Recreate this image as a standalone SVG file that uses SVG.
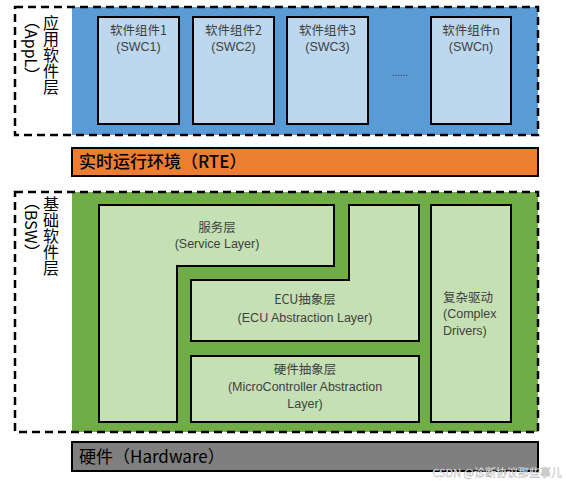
<svg xmlns="http://www.w3.org/2000/svg" width="566" height="482" viewBox="0 0 566 482">
<style>
text{font-family:"Noto Sans CJK SC","Liberation Sans",sans-serif}
.dash{fill:none;stroke:#000;stroke-width:2.5;stroke-dasharray:8 5}
.swc{fill:#BDD7EE;stroke:#000;stroke-width:2}
.bsw{fill:#C5E0B4;stroke:#000;stroke-width:2}
.lbl{font-size:12.5px;fill:#404040;text-anchor:middle}
.en{font-family:"Liberation Sans",Arial,sans-serif;font-size:12.5px;fill:#404040;text-anchor:middle}
.st{text-anchor:start}
.side{font-size:16px;fill:#000;writing-mode:vertical-rl}
.bar{font-size:17px;fill:#000}
</style>
<g id="appl">
<rect x="72" y="7" width="466" height="128" fill="#5B9BD5"/>
<rect class="dash" x="15" y="7" width="523" height="128"/>
<text class="side" x="51" y="15">应用软件层</text>
<text class="side" x="32" y="13">（AppL）</text>
</g>
<g id="swc1"><rect class="swc" x="98" y="17" width="81" height="107"/><text class="lbl" x="138.5" y="35">软件组件1</text><text class="en" x="138.5" y="51">(SWC1)</text></g>
<g id="swc2"><rect class="swc" x="193" y="17" width="81" height="107"/><text class="lbl" x="233.5" y="35">软件组件2</text><text class="en" x="233.5" y="51">(SWC2)</text></g>
<g id="swc3"><rect class="swc" x="287" y="17" width="81" height="107"/><text class="lbl" x="327.5" y="35">软件组件3</text><text class="en" x="327.5" y="51">(SWC3)</text></g>
<g id="dots"><text class="en" x="400" y="76" style="font-size:10px;fill:#333">......</text></g>
<g id="swcn"><rect class="swc" x="431" y="17" width="80" height="107"/><text class="lbl" x="471" y="35">软件组件n</text><text class="en" x="471" y="51">(SWCn)</text></g>
<g id="rte"><rect x="72" y="148" width="466" height="28" fill="#ED7D31" stroke="#000" stroke-width="2"/><text class="bar" x="79" y="168" font-weight="500">实时运行环境（RTE）</text></g>
<g id="bsw">
<rect x="72" y="192" width="466" height="240" fill="#70AD47"/>
<rect class="dash" x="15" y="192" width="523" height="240"/>
<text class="side" x="51" y="196">基础软件层</text>
<text class="side" x="32" y="194">（BSW）</text>
</g>
<g id="service"><path class="bsw" d="M99 205H334V266H177V422H99Z"/><text class="lbl" x="217" y="232">服务层</text><text class="en" x="217" y="248">(Service Layer)</text></g>
<g id="ecu"><path class="bsw" d="M349 205H419V341H191V280H349Z"/><text class="lbl" x="305" y="304">ECU抽象层</text><text class="en" x="305" y="322">(ECU Abstraction Layer)</text></g>
<g id="mcal"><rect class="bsw" x="191" y="356" width="228" height="66"/><text class="lbl" x="305" y="374">硬件抽象层</text><text class="en" x="305" y="391">(MicroController Abstraction</text><text class="en" x="305" y="408">Layer)</text></g>
<g id="cdd"><rect class="bsw" x="431" y="205" width="80" height="217"/><text class="lbl st" x="443" y="302">复杂驱动</text><text class="en st" x="443" y="318">(Complex</text><text class="en st" x="443" y="335">Drivers)</text></g>
<g id="hw"><rect x="72" y="442" width="466" height="29" fill="#7F7F7F" stroke="#000" stroke-width="2"/><text class="bar" x="79" y="463">硬件（Hardware）</text></g>
<g id="connectors"></g>
<text x="562" y="477" font-size="11" fill="#f2f2f2" stroke="#aaa" stroke-width="0.3" text-anchor="end">CSDN @诊断协议那些事儿</text>
</svg>
